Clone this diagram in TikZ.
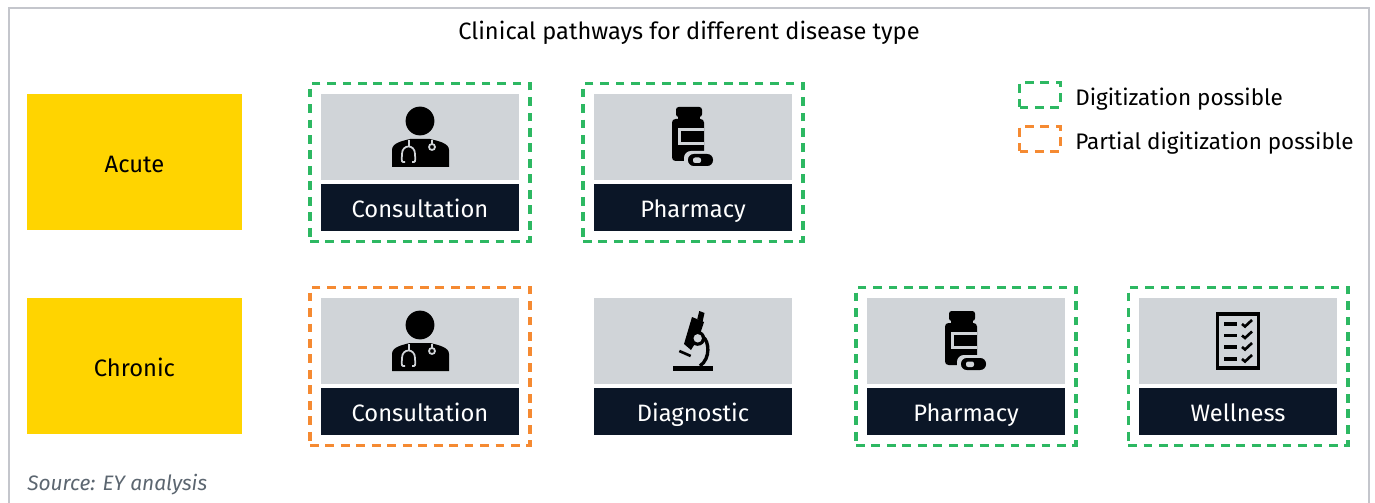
\documentclass[tikz,border=0pt]{standalone}
\usepackage{fontspec}
\setmainfont{Fira Sans}
\definecolor{eyyellow}{HTML}{FFD400}
\definecolor{eygray}{HTML}{D0D4D8}
\definecolor{eynavy}{HTML}{0B1627}
\definecolor{digigreen}{HTML}{2DB862}
\definecolor{partorange}{HTML}{F58A32}
\definecolor{framegray}{HTML}{C4C6CC}
\definecolor{sourcegray}{HTML}{5C6670}
\tikzset{
  textline/.style={inner sep=0pt, text height=14.1pt, text depth=2.2pt},
  diseasebox/.style={textline, fill=eyyellow, minimum width=4.3cm, minimum height=2.72cm, font=\fontsize{13.5}{15}\selectfont},
  iconbox/.style={fill=eygray, inner sep=0pt, minimum width=3.96cm, minimum height=1.72cm},
  namebox/.style={textline, fill=eynavy, text=white, minimum width=3.96cm, minimum height=0.94cm, font=\fontsize{13.5}{15}\selectfont},
  digibox/.style={draw=digigreen, line width=1.75pt, dash pattern=on 5pt off 3.8pt, minimum width=4.4cm, minimum height=3.16cm},
  partbox/.style={draw=partorange, line width=1.75pt, dash pattern=on 5pt off 3.8pt, minimum width=4.4cm, minimum height=3.16cm},
  nobox/.style={minimum width=4.4cm, minimum height=3.16cm},
  keybox/.style={minimum width=0.82cm, minimum height=0.5cm},
  keytext/.style={textline, anchor=base west, font=\fontsize{12.8}{15}\selectfont},
  doctoricon/.pic={
    \fill (0,-16) circle (14.4);
    \fill (-28,30) -- (-28,13) .. controls (-28,6) and (-18,4) .. (-10,2) -- (10,2) .. controls (18,4) and (29,6) .. (29,13) -- (29,30) -- cycle;
    \draw[eygray, line width=1pt] (-11,3) -- (-11,9) (-15,25) -- (-17,25) .. controls (-19,25) and (-18,20) .. (-18,17) .. controls (-18,7) and (-5,7) .. (-5,17) .. controls (-5,20) and (-4,25) .. (-6,25) -- (-8,25);
    \draw[eygray, line width=1pt] (12,3) -- (12,7) (12,10) circle (3);
  },
  bottleicon/.pic={
    \fill[rounded corners=1.5pt] (-17,-30) rectangle (9,-20);
    \fill (-15,-21) rectangle (7,-16);
    \fill[rounded corners=2pt] (-21,-18) rectangle (11,24);
    \fill[eygray] (-15,-9) rectangle (11,8);
    \fill (-12,-6) rectangle (11,5);
    \fill[eygray, rounded corners=3.9pt] (-9,14) rectangle (23,31);
    \fill[rounded corners=3.3pt] (-5,17) rectangle (20,29);
    \fill[eygray, rounded corners=1.2pt] (0,20.5) rectangle (8,26);
  },
  scopeicon/.pic={
    \fill (-20,25) rectangle (20,30);
    \fill (6.3,-30) -- (11.5,-28) -- (9.5,-19) -- (4.3,-22) -- cycle;
    \fill (-1,-24) -- (11,-19) -- (6,-4) -- (-2,9) -- (-9,3) -- cycle;
    \draw[line width=1.9pt] (10,-4) .. controls (16,0) and (18,17) .. (7,25);
    \fill (4.7,-2.7) circle (7.5);
    \fill[eygray] (4.7,-2.7) circle (4.2);
    \draw[line width=1.5pt] (-13.7,10) -- (-2.3,15);
  },
  listicon/.pic={
    \draw[line width=2.2pt] (-20.5,-27) rectangle (20.5,27);
    \foreach \rowy in {-17,-5.5,6,18}{
      \draw[line width=1.8pt] (-14,\rowy) -- (-1,\rowy);
      \draw[line width=1.5pt] (4,\rowy) -- (7,\rowy+2.5) -- (14,\rowy-4);
    }
  }
}
\begin{document}
\begin{tikzpicture}[x=0.02cm, y=-0.02cm]
\useasboundingbox (0,0) rectangle (1375,503);
\draw[framegray, line width=1.2pt] (9,503) -- (9,8) -- (1369,8) -- (1369,503);
\node[inner sep=0pt, font=\fontsize{13.45}{15}\selectfont] (title) at (689,33) {Clinical pathways for different disease type};
\node[diseasebox] (acute) at (134.5,162) {Acute};
\node[diseasebox] (chronic) at (134.5,366) {Chronic};
\foreach \n/\u/\v/\w/\i/\k in {acons/420/137/Consultation/doctoricon/digibox,
  apharm/693/137/Pharmacy/bottleicon/digibox,
  ccons/420/341/Consultation/doctoricon/partbox,
  cdiag/693/341/Diagnostic/scopeicon/nobox,
  cpharm/966/341/Pharmacy/bottleicon/digibox,
  cwell/1238/341/Wellness/listicon/digibox}{
  \node[\k] (\n box) at (\u,\v+25.5) {};
  \node[iconbox] (\n icon) at (\u,\v) {};
  \node[namebox] (\n name) at (\u,\v+70.5) {\w};
  \pic at (\n icon.center) {\i};
}
\node[digibox, keybox] (keydigi) at (1040,95) {};
\node[partbox, keybox] (keypart) at (1040,139) {};
\node[keytext] (digitext) at (1075,106) {Digitization possible};
\node[keytext] (parttext) at (1075,150) {Partial digitization possible};
\node[inner sep=0pt, anchor=base west, text=sourcegray, font=\fontsize{11.9}{14}\itshape] (source) at (27,490) {Source: EY analysis};
\end{tikzpicture}
\end{document}
